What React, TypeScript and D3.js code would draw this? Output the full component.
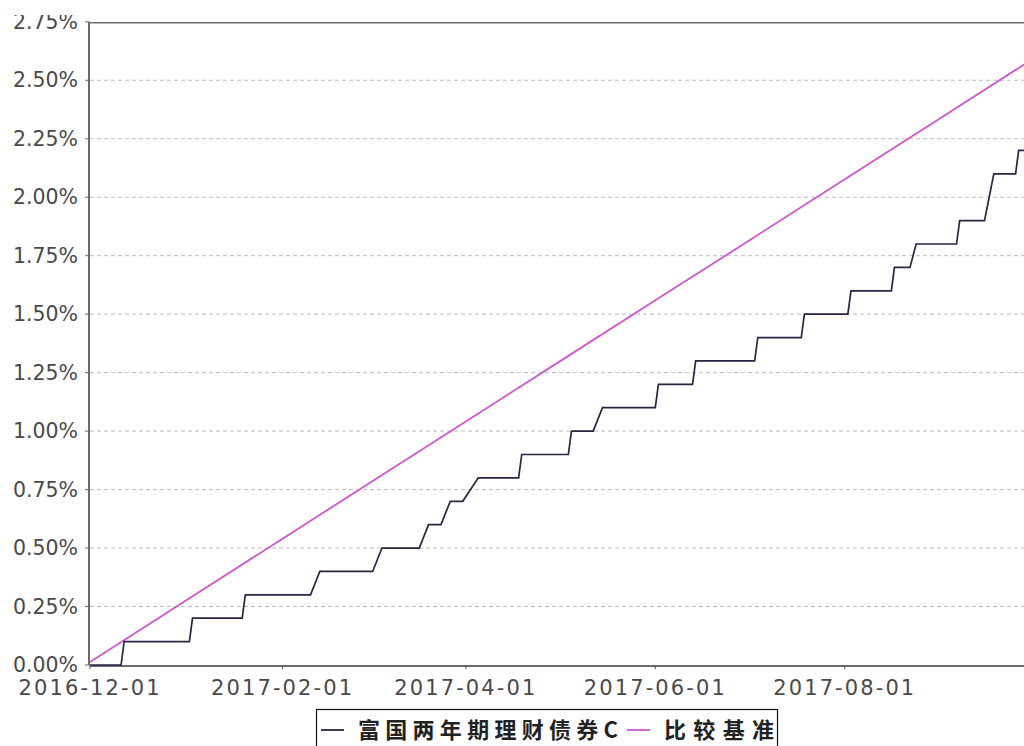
import React from "react";
import * as d3 from "d3";

const fundDates = [
  "2016-12-01", "2016-12-11", "2016-12-12", "2017-01-02", "2017-01-03", "2017-01-19", "2017-01-20",
  "2017-02-10", "2017-02-13", "2017-03-02", "2017-03-05", "2017-03-17", "2017-03-20", "2017-03-24",
  "2017-03-27", "2017-03-31", "2017-04-05", "2017-04-18", "2017-04-19", "2017-05-04", "2017-05-05",
  "2017-05-12", "2017-05-15", "2017-06-01", "2017-06-02", "2017-06-13", "2017-06-14", "2017-07-03",
  "2017-07-04", "2017-07-18", "2017-07-19", "2017-08-02", "2017-08-03", "2017-08-16", "2017-08-17",
  "2017-08-22", "2017-08-24", "2017-09-06", "2017-09-07", "2017-09-15", "2017-09-18", "2017-09-25",
  "2017-09-26", "2017-09-28",
];
const fundValues = [
  0, 0, 0.1, 0.1, 0.2, 0.2, 0.3,
  0.3, 0.4, 0.4, 0.5, 0.5, 0.6, 0.6,
  0.7, 0.7, 0.8, 0.8, 0.9, 0.9, 1.0,
  1.0, 1.1, 1.1, 1.2, 1.2, 1.3, 1.3,
  1.4, 1.4, 1.5, 1.5, 1.6, 1.6, 1.7,
  1.7, 1.8, 1.8, 1.9, 1.9, 2.1, 2.1,
  2.2, 2.2,
];

const benchDates = [
  "2016-12-01", "2017-01-01", "2017-02-01", "2017-03-01", "2017-04-01", "2017-05-01",
  "2017-06-01", "2017-07-01", "2017-08-01", "2017-09-01", "2017-09-29",
];
const benchValues = [0.013, 0.277, 0.54, 0.778, 1.041, 1.296, 1.559, 1.813, 2.077, 2.34, 2.578];

const yTickValues = [0, 0.25, 0.5, 0.75, 1.0, 1.25, 1.5, 1.75, 2.0, 2.25, 2.5, 2.75];
const xTickDates = ["2016-12-01", "2017-02-01", "2017-04-01", "2017-06-01", "2017-08-01"];

const seriesNames = ["富国两年期理财债券C", "比较基准"];
const seriesColors = ["#262645", "#d055d0"];

const W = 1024;
const H = 746;
const left = 90;
const right = 1028;
const top = 21.8;
const bottom = 665;

const parse = d3.utcParse("%Y-%m-%d");

export default function App() {
  const x = d3
    .scaleUtc()
    .domain([parse("2016-12-01")!, parse("2017-09-29")!])
    .range([left, right]);
  const y = d3.scaleLinear().domain([0, 2.75]).range([bottom, top]);

  const line = d3
    .line<[Date, number]>()
    .x((d) => x(d[0]))
    .y((d) => y(d[1]));

  const fund: [Date, number][] = fundDates.map((d, i) => [parse(d)!, fundValues[i]]);
  const bench: [Date, number][] = benchDates.map((d, i) => [parse(d)!, benchValues[i]]);

  const font = "'DejaVu Sans', Verdana, sans-serif";
  const textColor = "#4a4a4a";

  return (
    <svg
      width={W}
      height={H}
      style={{ position: "absolute", left: 0, top: 0, background: "#fff" }}
      viewBox={`0 0 ${W} ${H}`}
    >
      <defs>
        <clipPath id="plot">
          <rect x={left} y={top - 2} width={right - left} height={bottom - top + 4} />
        </clipPath>
        <clipPath id="ylab">
          <rect x={0} y={15} width={left} height={H} />
        </clipPath>
      </defs>
      <rect x={0} y={0} width={W} height={H} fill="#fff" />

      {/* gridlines */}
      {yTickValues.slice(1, -1).map((v) => (
        <line
          key={"g" + v}
          x1={left}
          x2={W}
          y1={y(v)}
          y2={y(v)}
          stroke="#bdbdbd"
          strokeWidth={1}
          strokeDasharray="4,3"
        />
      ))}
      {/* top border */}
      <line x1={left} x2={W} y1={y(2.75) + 1} y2={y(2.75) + 1} stroke="#6f6f6f" strokeWidth={1.5} />

      {/* y axis */}
      <line x1={left - 1} x2={left - 1} y1={top} y2={bottom} stroke="#6a6a6a" strokeWidth={2} />
      <g clipPath="url(#ylab)">
        {yTickValues.map((v) => (
          <g key={"y" + v}>
            <line x1={left - 5} x2={left - 1} y1={y(v)} y2={y(v)} stroke="#6a6a6a" strokeWidth={1} />
            <text
              x={78}
              y={y(v)}
              dy="0.34em"
              textAnchor="end"
              fontFamily={font}
              fontSize={21}
              fill={textColor}
              textLength={65}
              lengthAdjust="spacingAndGlyphs"
            >
              {v.toFixed(2) + "%"}
            </text>
          </g>
        ))}
      </g>

      {/* x axis */}
      <line x1={left} x2={W} y1={bottom + 1} y2={bottom + 1} stroke="#3c3c3c" strokeWidth={1.5} />
      {xTickDates.map((d) => {
        const xx = x(parse(d)!);
        return (
          <g key={"x" + d}>
            <line x1={xx} x2={xx} y1={bottom} y2={bottom + 4} stroke="#555" strokeWidth={1} />
            <text
              x={xx - 1}
              y={687}
              dy="0.36em"
              textAnchor="middle"
              fontFamily={font}
              fontSize={21}
              fill={textColor}
              textLength={141}
              lengthAdjust="spacing"
            >
              {d}
            </text>
          </g>
        );
      })}

      {/* series */}
      <g clipPath="url(#plot)">
        <path d={line(bench) || ""} fill="none" stroke={seriesColors[1]} strokeWidth={1.8} />
        <path d={line(fund) || ""} fill="none" stroke={seriesColors[0]} strokeWidth={1.7} />
      </g>

      {/* legend */}
      <rect x={316.5} y={709.5} width={461} height={44} fill="#fff" stroke="#111" strokeWidth={1.2} />
      <line x1={321} x2={344} y1={730} y2={730} stroke={seriesColors[0]} strokeWidth={1.8} />
      <text
        x={358}
        y={730}
        dy="0.36em"
        fontFamily="'Noto Sans CJK SC', sans-serif"
        fontSize={22}
        fontWeight={700}
        fill="#222"
        textLength={260}
        lengthAdjust="spacing"
      >
        {seriesNames[0]}
      </text>
      <line x1={627} x2={650} y1={730} y2={730} stroke={seriesColors[1]} strokeWidth={1.8} />
      <text
        x={664}
        y={730}
        dy="0.36em"
        fontFamily="'Noto Sans CJK SC', sans-serif"
        fontSize={22}
        fontWeight={700}
        fill="#222"
        textLength={110}
        lengthAdjust="spacing"
      >
        {seriesNames[1]}
      </text>
    </svg>
  );
}
